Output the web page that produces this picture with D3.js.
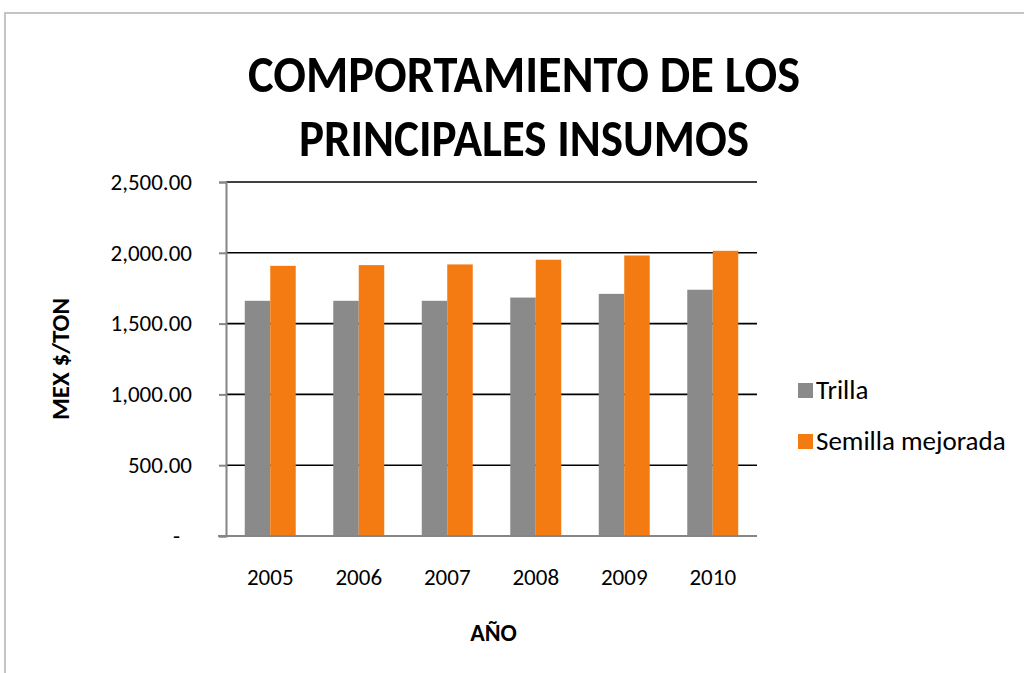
<!DOCTYPE html>
<html>
<head>
<meta charset="utf-8">
<script src="https://cdn.jsdelivr.net/npm/d3@7"></script>
<style>
    html, body { margin: 0; padding: 0; background: #fff; }
    svg { display: block; font-family: Carlito, Calibri, Lato, sans-serif; }
</style>
</head>
<body>
<div id="chart"></div>
<script>
// Data
const years = ["2005", "2006", "2007", "2008", "2009", "2010"];
const seriesNames = ["Trilla", "Semilla mejorada"];
const trilla = [1661, 1661, 1661, 1684, 1710, 1739];
const semilla = [1908, 1913, 1918, 1951, 1981, 2014];
const yTicks = [0, 500, 1000, 1500, 2000, 2500];
const titleLines = ["COMPORTAMIENTO DE LOS", "PRINCIPALES INSUMOS"];

const colors = ["#8a8a8a", "#f47b12"];

const W = 1024;
const H = 673;
const plot = { left: 226, right: 757, top: 182, bottom: 536 };

const svg = d3.select("#chart").append("svg").attr("width", W).attr("height", H);

// Outer chart border (runs off the right and bottom edges)
svg.append("path")
    .attr("d", `M 5 ${H + 5} V 13 H ${W + 5}`)
    .attr("fill", "none")
    .attr("stroke", "#c4c4c4")
    .attr("stroke-width", 2);

// Title, two lines
const title = svg.append("g").attr("font-weight", "bold").attr("text-anchor", "middle");
const titleWidths = [552, 450];
titleLines.forEach((t, i) => {
    title.append("text")
        .attr("x", 524)
        .attr("y", 92 + i * 64)
        .attr("font-size", 52)
        .attr("textLength", titleWidths[i])
        .attr("lengthAdjust", "spacingAndGlyphs")
        .text(t);
});

// Scales
const x0 = d3.scaleBand()
    .domain(years)
    .range([plot.left, plot.right])
    .paddingInner(0.424)
    .paddingOuter(0.212);

const x1 = d3.scaleBand().domain(seriesNames).range([0, x0.bandwidth()]);

const y = d3.scaleLinear().domain([0, 2500]).range([plot.bottom, plot.top]);

// Gridlines (black)
svg.append("g")
    .selectAll("line")
    .data(yTicks.filter((d) => d > 0))
    .join("line")
    .attr("x1", plot.left)
    .attr("x2", plot.right)
    .attr("y1", (d) => y(d))
    .attr("y2", (d) => y(d))
    .attr("stroke", "#000")
    .attr("stroke-width", 1.6);

// Bars
const rows = years.map((yr, i) => ({ year: yr, values: [trilla[i], semilla[i]] }));
svg.append("g")
    .selectAll("g")
    .data(rows)
    .join("g")
    .attr("transform", (d) => `translate(${x0(d.year)},0)`)
    .selectAll("rect")
    .data((d) => d.values.map((v, k) => ({ name: seriesNames[k], value: v, k })))
    .join("rect")
    .attr("x", (d) => x1(d.name))
    .attr("y", (d) => y(d.value))
    .attr("width", x1.bandwidth())
    .attr("height", (d) => y(0) - y(d.value))
    .attr("fill", (d) => colors[d.k]);

// Y axis
const yAxis = svg.append("g")
    .attr("transform", `translate(${plot.left},0)`)
    .call(d3.axisLeft(y)
        .tickValues(yTicks)
        .tickSize(7)
        .tickPadding(27)
        .tickFormat((d) => (d === 0 ? "-" : d3.format(",.2f")(d))))
    .attr("font-family", null)
    .attr("font-size", 23);
yAxis.select(".domain").attr("stroke", "#868686").attr("stroke-width", 2);
yAxis.selectAll(".tick line").attr("stroke", "#868686").attr("stroke-width", 2);
yAxis.selectAll(".tick text")
    .attr("fill", "#000")
    .attr("dx", (d) => (d === 0 ? -12 : 0));

// X axis
const xAxis = svg.append("g")
    .attr("transform", `translate(0,${plot.bottom})`)
    .call(d3.axisBottom(x0).tickSize(0).tickPadding(33))
    .attr("font-family", null)
    .attr("font-size", 23);
xAxis.select(".domain")
    .attr("d", `M ${plot.left - 8} 0 H ${plot.right}`)
    .attr("stroke", "#868686")
    .attr("stroke-width", 2);
xAxis.selectAll(".tick text").attr("fill", "#000");

// Axis titles
svg.append("text")
    .attr("x", (plot.left + plot.right) / 2 + 2)
    .attr("y", 641)
    .attr("text-anchor", "middle")
    .attr("font-size", 24)
    .attr("font-weight", "bold")
    .text("AÑO");

svg.append("text")
    .attr("transform", `translate(69,${(plot.top + plot.bottom) / 2}) rotate(-90)`)
    .attr("text-anchor", "middle")
    .attr("font-size", 25)
    .attr("font-weight", "bold")
    .text("MEX $/TON");

// Legend
const legend = svg.append("g")
    .selectAll("g")
    .data(seriesNames)
    .join("g")
    .attr("transform", (d, i) => `translate(798,${383 + i * 51})`);

legend.append("rect")
    .attr("width", 15)
    .attr("height", 15)
    .attr("fill", (d, i) => colors[i]);

legend.append("text")
    .attr("x", 18)
    .attr("y", 16)
    .attr("font-size", 27)
    .text((d) => d);
</script>
</body>
</html>
